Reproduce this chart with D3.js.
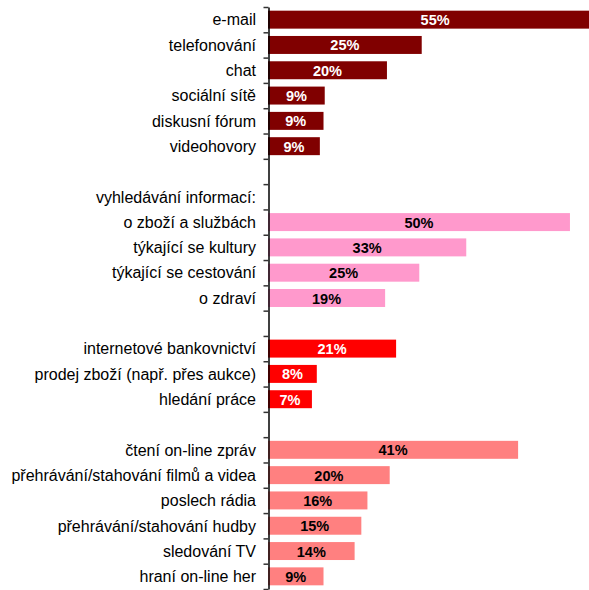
<!DOCTYPE html>
<html>
<head>
<meta charset="utf-8">
<script src="https://cdn.jsdelivr.net/npm/d3@7"></script>
<style>
  html, body { margin: 0; padding: 0; background: #fff; }
  svg { display: block; }
  text { font-family: "Liberation Sans", Arial, sans-serif; }
</style>
</head>
<body>
<svg id="chart" width="589" height="590"></svg>
<script>
// ---- data ----
const categories = [
  "e-mail", "telefonování", "chat", "sociální sítě", "diskusní fórum", "videohovory",
  "",
  "vyhledávání informací:", "o zboží a službách", "týkající se kultury", "týkající se cestování", "o zdraví",
  "",
  "internetové bankovnictví", "prodej zboží (např. přes aukce)", "hledání práce",
  "",
  "čtení on-line zpráv", "přehrávání/stahování filmů a videa", "poslech rádia",
  "přehrávání/stahování hudby", "sledování TV", "hraní on-line her"
];
const values = [
  54.8, 25.2, 19.5, 9.3, 9.1, 8.5,
  null,
  null, 49.5, 32.5, 24.8, 19.2,
  null,
  21.0, 8.0, 7.2,
  null,
  41.0, 19.95, 16.3, 15.3, 14.2, 9.1
];
const valueLabels = [
  "55%", "25%", "20%", "9%", "9%", "9%",
  "",
  "", "50%", "33%", "25%", "19%",
  "",
  "21%", "8%", "7%",
  "",
  "41%", "20%", "16%", "15%", "14%", "9%"
];
const groups = [
  0, 0, 0, 0, 0, 0,
  -1,
  -1, 1, 1, 1, 1,
  -1,
  2, 2, 2,
  -1,
  3, 3, 3, 3, 3, 3
];
const groupColors = ["#800000", "#FF99CC", "#FF0000", "#FF8080"];
const labelColors = ["#FFFFFF", "#000000", "#FFFFFF", "#000000"];

// ---- layout ----
const svg = d3.select("#chart");
const axisX = 268, yTop = 7, yBottom = 589;
const idx = d3.range(categories.length);

const y = d3.scaleBand().domain(idx).range([yTop, yBottom]).padding(0);
const yEdge = d3.scaleLinear().domain([0, categories.length]).range([yTop, yBottom]);
const x = d3.scaleLinear().domain([0, 60]).range([axisX, axisX + 366]);
const barH = y.bandwidth() * 0.71;

const rows = idx.map(i => ({ i, cat: categories[i], v: values[i], lab: valueLabels[i], g: groups[i] }));

// bars
svg.append("g").selectAll("rect")
  .data(rows.filter(d => d.v != null))
  .join("rect")
  .attr("x", x(0))
  .attr("y", d => y(d.i) + (y.bandwidth() - barH) / 2)
  .attr("width", d => x(d.v) - x(0))
  .attr("height", barH)
  .attr("fill", d => groupColors[d.g]);

// value labels
svg.append("g").selectAll("text")
  .data(rows.filter(d => d.v != null))
  .join("text")
  .attr("x", d => (x(0) + x(d.v)) / 2)
  .attr("y", d => y(d.i) + y.bandwidth() / 2 + 5.5)
  .attr("text-anchor", "middle")
  .attr("font-size", 14.5)
  .attr("font-weight", "bold")
  .attr("fill", d => labelColors[d.g])
  .text(d => d.lab);

// category labels
svg.append("g").selectAll("text")
  .data(rows.filter(d => d.cat))
  .join("text")
  .attr("x", axisX - 12)
  .attr("y", d => y(d.i) + y.bandwidth() / 2 + 5.8)
  .attr("text-anchor", "end")
  .attr("font-size", 16)
  .attr("fill", "#000")
  .text(d => d.cat);

// axis with ticks at band edges
const axis = d3.axisLeft(yEdge)
  .tickValues(d3.range(categories.length + 1))
  .tickSize(5)
  .tickSizeOuter(0)
  .tickFormat("");
const ag = svg.append("g").attr("transform", `translate(${axisX + 0.5},0)`).call(axis);
ag.select(".domain").attr("stroke", "#000").attr("stroke-width", 1.5);
ag.selectAll(".tick line").attr("stroke", "#333").attr("stroke-width", 1.5);
</script>
</body>
</html>
